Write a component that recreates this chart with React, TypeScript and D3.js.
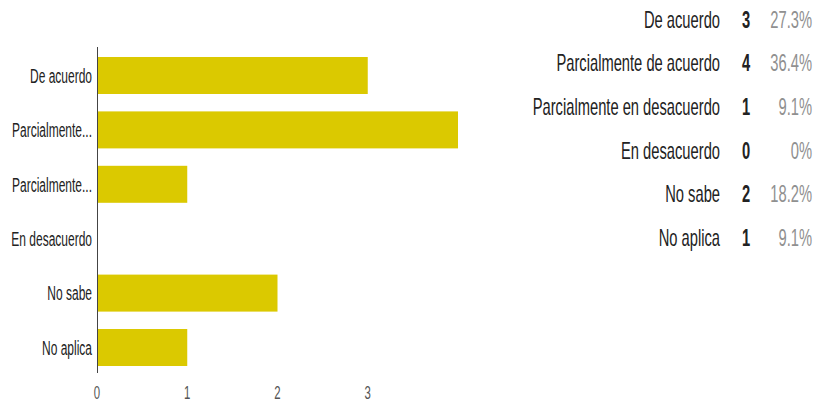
import React from "react";
import * as d3 from "d3";

const categories = [
  "De acuerdo",
  "Parcialmente de acuerdo",
  "Parcialmente en desacuerdo",
  "En desacuerdo",
  "No sabe",
  "No aplica",
];
const axisLabels = [
  "De acuerdo",
  "Parcialmente...",
  "Parcialmente...",
  "En desacuerdo",
  "No sabe",
  "No aplica",
];
const counts = [3, 4, 1, 0, 2, 1];
const percents = ["27.3%", "36.4%", "9.1%", "0%", "18.2%", "9.1%"];
const xTicks = [0, 1, 2, 3];

const W = 816;
const H = 405;
const FONT = "'Liberation Sans', Arial, sans-serif";

export default function App() {
  const x = d3.scaleLinear().domain([0, 4]).range([97, 458]);
  const y = d3
    .scaleBand<string>()
    .domain(categories)
    .range([49, 374])
    .paddingInner(0.32)
    .paddingOuter(0.147);
  const ry = d3.scalePoint<string>().domain(categories).range([20, 238]);

  const leftSX = 0.6;
  const rightSX = 0.64;
  const leftFS = 20;
  const rightFS = 23;

  return (
    <svg
      width={W}
      height={H}
      style={{ position: "absolute", left: 0, top: 0, background: "#fff" }}
      fontFamily={FONT}
    >
      <rect x={0} y={0} width={W} height={H} fill="#fff" />
      {categories.map((c, i) => (
        <rect
          key={"b" + i}
          x={x(0)}
          y={y(c)}
          width={x(counts[i]) - x(0)}
          height={y.bandwidth()}
          fill="#dbc900"
        />
      ))}
      <line x1={97.5} x2={97.5} y1={47} y2={373} stroke="#444" strokeWidth={1} />
      {categories.map((c, i) => (
        <g
          key={"l" + i}
          transform={`translate(92,${(y(c) as number) + y.bandwidth() / 2}) scale(${leftSX},1)`}
        >
          <text
            textAnchor="end"
            dominantBaseline="central"
            fontSize={leftFS}
            fill="#222"
          >
            {axisLabels[i]}
          </text>
        </g>
      ))}
      {xTicks.map((t) => (
        <g key={"t" + t} transform={`translate(${x(t)},392) scale(${leftSX},1)`}>
          <text
            textAnchor="middle"
            dominantBaseline="central"
            fontSize={leftFS - 1}
            fill="#555"
          >
            {t}
          </text>
        </g>
      ))}
      {categories.map((c, i) => (
        <g key={"r" + i}>
          <g transform={`translate(720,${ry(c)}) scale(${rightSX},1)`}>
            <text
              textAnchor="end"
              dominantBaseline="central"
              fontSize={rightFS}
              fill="#222"
            >
              {c}
            </text>
          </g>
          <g transform={`translate(746,${ry(c)}) scale(${rightSX},1)`}>
            <text
              textAnchor="middle"
              dominantBaseline="central"
              fontSize={rightFS}
              fontWeight="bold"
              fill="#222"
            >
              {counts[i]}
            </text>
          </g>
          <g transform={`translate(812,${ry(c)}) scale(${rightSX},1)`}>
            <text
              textAnchor="end"
              dominantBaseline="central"
              fontSize={rightFS}
              fill="#909090"
            >
              {percents[i]}
            </text>
          </g>
        </g>
      ))}
    </svg>
  );
}
